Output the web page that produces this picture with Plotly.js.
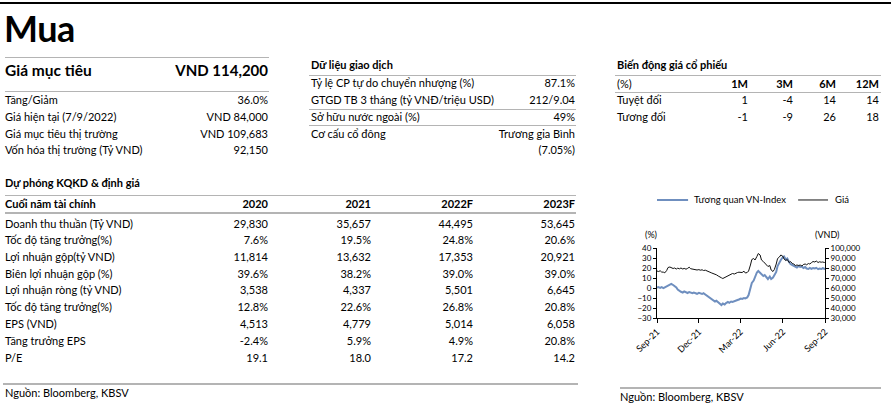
<!DOCTYPE html>
<html><head><meta charset="utf-8">
<script src="https://cdn.plot.ly/plotly-3.0.1.min.js"></script>
<style>
html,body{margin:0;padding:0;background:#fff}
body{width:891px;height:403px;overflow:hidden;position:relative;font-family:Lato,"Noto Sans",sans-serif;color:#000}
.t{position:absolute;white-space:nowrap}
.hl{position:absolute;height:0}
</style></head><body>
<div id="chart" style="position:absolute;left:615px;top:185px;width:276px;height:175px"></div>
<script>
// ---------- data ----------
const rating = "Mua";
const targetLabel = "Giá mục tiêu";
const targetValue = "VND 114,200";
const keyLabels = ["Tăng/Giảm","Giá hiện tại (7/9/2022)","Giá mục tiêu thị trường","Vốn hóa thị trường (Tỷ VND)"];
const keyValues = ["36.0%","VND 84,000","VND 109,683","92,150"];

const tradeTitle = "Dữ liệu giao dịch";
const tradeLabels = ["Tỷ lệ CP tự do chuyển nhượng (%)","GTGD TB 3 tháng (tỷ VNĐ/triệu USD)","Sở hữu nước ngoài (%)","Cơ cấu cổ đông",""];
const tradeValues = ["87.1%","212/9.04","49%","Trương gia Bình","(7.05%)"];

const perfTitle = "Biến động giá cổ phiếu";
const perfHeaders = ["(%)","1M","3M","6M","12M"];
const perfRowLabels = ["Tuyệt đối","Tương đối"];
const perfAbsolute = [1,-4,14,14];
const perfRelative = [-1,-9,26,18];

const fcTitle = "Dự phóng KQKD & định giá";
const fcHeader = "Cuối năm tài chính";
const fcYears = ["2020","2021","2022F","2023F"];
const fcLabels = ["Doanh thu thuần (Tỷ VND)","Tốc độ tăng trưởng(%)","Lợi nhuận gộp(tỷ VND)","Biên lợi nhuận gộp (%)","Lợi nhuận ròng (tỷ VND)","Tốc độ tăng trưởng(%)","EPS (VND)","Tăng trưởng EPS","P/E"];
const fc2020 = ["29,830","7.6%","11,814","39.6%","3,538","12.8%","4,513","-2.4%","19.1"];
const fc2021 = ["35,657","19.5%","13,632","38.2%","4,337","22.6%","4,779","5.9%","18.0"];
const fc2022F = ["44,495","24.8%","17,353","39.0%","5,501","26.8%","5,014","4.9%","17.2"];
const fc2023F = ["53,645","20.6%","20,921","39.0%","6,645","20.8%","6,058","20.8%","14.2"];

const sourceText = "Nguồn: Bloomberg, KBSV";

// chart series
const seriesNames = ["Tương quan VN-Index","Giá"];
const seriesColors = ["#6f8fbf","#111111"];
const dates = ["2021-09-07","2021-09-10","2021-09-14","2021-09-17","2021-09-21","2021-09-24","2021-09-28",
"2021-10-01","2021-10-05","2021-10-08","2021-10-12","2021-10-15","2021-10-19","2021-10-22","2021-10-26","2021-10-29",
"2021-11-02","2021-11-05","2021-11-09","2021-11-12","2021-11-16","2021-11-19","2021-11-23","2021-11-26","2021-11-30",
"2021-12-03","2021-12-07","2021-12-10","2021-12-14","2021-12-17","2021-12-21","2021-12-24","2021-12-28","2021-12-31",
"2022-01-04","2022-01-07","2022-01-11","2022-01-14","2022-01-18","2022-01-21","2022-01-25","2022-01-28",
"2022-02-01","2022-02-04","2022-02-08","2022-02-11","2022-02-15","2022-02-18","2022-02-22","2022-02-25",
"2022-03-01","2022-03-04","2022-03-08","2022-03-11","2022-03-15","2022-03-18","2022-03-22","2022-03-25","2022-03-29",
"2022-04-01","2022-04-05","2022-04-08","2022-04-12","2022-04-15","2022-04-19","2022-04-22","2022-04-26","2022-04-29",
"2022-05-03","2022-05-06","2022-05-10","2022-05-13","2022-05-17","2022-05-20","2022-05-24","2022-05-27","2022-05-31",
"2022-06-03","2022-06-07","2022-06-10","2022-06-14","2022-06-17","2022-06-21","2022-06-24","2022-06-28",
"2022-07-01","2022-07-05","2022-07-08","2022-07-12","2022-07-15","2022-07-19","2022-07-22","2022-07-26","2022-07-29",
"2022-08-02","2022-08-05","2022-08-09","2022-08-12","2022-08-16","2022-08-19","2022-08-23","2022-08-26","2022-08-30",
"2022-09-02","2022-09-06","2022-09-07"];
const relativeVNIndex = [0.5,1.0,0.2,0.8,-0.2,0.5,1.5,
2.5,3.8,4.2,3.0,2.0,0.5,-1.5,-3.0,-3.8,
-4.5,-3.5,-4.2,-5.0,-4.0,-4.8,-5.2,-4.5,-5.0,
-5.8,-4.8,-5.5,-6.0,-5.2,-6.5,-7.5,-8.5,-10.0,
-11.0,-12.5,-13.5,-12.8,-14.5,-15.0,-17.0,-15.5,
-16.5,-15.0,-14.0,-14.8,-13.5,-14.0,-13.0,-12.5,
-12.0,-11.5,-10.5,-11.0,-10.0,-10.5,-9.5,-7.0,-1.0,
5.0,7.5,12.0,15.5,17.0,15.0,13.5,12.0,13.0,
10.5,9.0,11.5,9.0,10.5,12.5,16.0,22.0,26.5,
28.0,30.5,31.5,28.5,29.5,26.0,24.0,23.0,
22.0,21.5,20.5,22.0,21.0,21.5,20.0,21.0,19.5,
19.0,20.0,19.2,20.0,19.5,20.2,18.8,19.5,19.0,
19.8,19.2,19.5];
const priceVND = [77000,76500,77200,76000,75800,75200,77500,
80500,81000,80200,79500,80000,79000,79800,79200,80000,
79000,79600,78800,79500,80800,79300,78800,79200,78500,
78000,78400,77800,78200,77500,77800,77000,76500,75800,
75000,74500,74000,73200,72000,71500,70200,69500,
70500,71200,72500,73000,73800,74500,74000,75000,
75500,75800,76000,75500,76800,75000,75500,77000,83000,
88500,89500,88000,91500,94500,93000,88000,86500,85000,
83000,81500,82500,78000,76500,78500,84000,89500,91000,
93000,92000,89000,87500,88500,85500,86500,84500,
84000,82500,83000,82500,83000,82000,83500,84000,83200,
84500,84000,85500,86500,86000,87000,85500,86200,85800,
86000,85500,85500];
const xTickVals = ["2021-09-07","2021-12-07","2022-03-07","2022-06-07","2022-09-07"];
const xTickText = ["Sep-21","Dec-21","Mar-22","Jun-22","Sep-22"];
const leftAxisTitle = "(%)";
const rightAxisTitle = "(VND)";

// ---------- page text ----------
function addText(txt, x, yc, o) {
  o = o || {};
  const d = document.createElement('div');
  d.className = 't';
  d.textContent = txt;
  const fs = o.size || 11;
  const h = Math.round(fs * 1.3);
  d.style.fontSize = fs + 'px';
  d.style.height = h + 'px';
  d.style.lineHeight = h + 'px';
  d.style.top = (yc - h / 2) + 'px';
  if (o.bold) d.style.fontWeight = o.bold;
  if (o.ls) d.style.letterSpacing = o.ls;
  if (o.right) { d.style.left = (x - 400) + 'px'; d.style.width = '400px'; d.style.textAlign = 'right'; }
  else d.style.left = x + 'px';
  document.body.appendChild(d);
}
function addLine(x1, x2, y, color, w) {
  const d = document.createElement('div');
  d.className = 'hl';
  d.style.left = x1 + 'px';
  d.style.width = (x2 - x1) + 'px';
  d.style.top = (y - w / 2) + 'px';
  d.style.borderTop = w + 'px solid ' + color;
  document.body.appendChild(d);
}
const GRAY = '#b4b4b4';
addLine(0, 891, 3, '#000', 2);
addText(rating, 4, 28, {size: 36, bold: 700, ls: '-0.5px'});

// key figures
addLine(5, 269, 58, GRAY, 1.5);
addText(targetLabel, 5, 70, {size: 15.5, bold: 700});
addText(targetValue, 268, 70, {size: 15, bold: 700, right: true});
addLine(5, 269, 92, GRAY, 1.5);
const keyY = [100, 117, 134, 150];
keyLabels.forEach((l, i) => { addText(l, 5, keyY[i]); addText(keyValues[i], 268, keyY[i], {right: true}); });

// trading data
addText(tradeTitle, 311, 65, {bold: 700});
addLine(309, 576, 75, GRAY, 1);
const tradeY = [83, 100, 117, 133.5, 150];
tradeLabels.forEach((l, i) => { if (l) addText(l, 311, tradeY[i]); addText(tradeValues[i], 575, tradeY[i], {right: true}); });
addLine(309, 576, 109, GRAY, 1);
addLine(309, 576, 125.5, GRAY, 1);

// price performance
addText(perfTitle, 617, 65, {bold: 700});
addLine(615, 881, 75, GRAY, 1);
const perfX = [748, 793, 836, 879];
addText(perfHeaders[0], 617, 83.5);
perfHeaders.slice(1).forEach((h, i) => addText(h, perfX[i], 83.5, {bold: 700, right: true}));
addLine(615, 881, 92.5, GRAY, 1);
addText(perfRowLabels[0], 617, 100);
perfAbsolute.forEach((v, i) => addText(String(v), perfX[i], 100, {right: true}));
addText(perfRowLabels[1], 617, 117);
perfRelative.forEach((v, i) => addText(String(v), perfX[i], 117, {right: true}));

// forecast table
addText(fcTitle, 5, 183, {bold: 700});
addLine(5, 576, 195, GRAY, 1);
const fcX = [268, 371, 473, 575];
addText(fcHeader, 5, 204, {bold: 700});
fcYears.forEach((y, i) => addText(y, fcX[i], 204, {bold: 700, right: true}));
addLine(5, 576, 213, GRAY, 2.5);
const fcCols = [fc2020, fc2021, fc2022F, fc2023F];
const fcY = [223.5, 240, 257, 273.5, 290, 307, 324, 341, 358];
fcLabels.forEach((l, r) => {
  addText(l, 5, fcY[r]);
  fcCols.forEach((col, c) => addText(col[r], fcX[c], fcY[r], {right: true}));
});

// sources
addLine(3, 578, 384, GRAY, 2);
addText(sourceText, 5, 393);
addLine(620, 881, 388, GRAY, 2);
addText(sourceText, 620, 397);

// ---------- chart ----------
const traces = [
  {x: dates, y: relativeVNIndex, name: seriesNames[0], type: 'scatter', mode: 'lines',
   line: {color: seriesColors[0], width: 2}, yaxis: 'y'},
  {x: dates, y: priceVND, name: seriesNames[1], type: 'scatter', mode: 'lines',
   line: {color: seriesColors[1], width: 1}, yaxis: 'y2'}
];
const axCommon = {showgrid: false, zeroline: false, fixedrange: true, tickcolor: '#000', tickwidth: 1};
const yFont = {size: 8, color: '#000'};
// legend built from shapes + annotations (paper coords, plot area = 168 x 70 px)
const legendY = 1.686;
const layout = {
  width: 276, height: 175,
  margin: {l: 42, r: 66, t: 63, b: 42, pad: 0},
  paper_bgcolor: '#fff', plot_bgcolor: '#fff',
  font: {family: 'Lato, sans-serif', size: 9, color: '#000'},
  showlegend: false,
  xaxis: Object.assign({}, axCommon, {type: 'date', range: ['2021-09-07', '2022-09-07'],
    tickmode: 'array', tickvals: xTickVals, ticktext: xTickText, tickangle: -45, tickfont: {size: 9},
    ticks: 'outside', ticklen: 4, showline: true, linecolor: '#000', linewidth: 1}),
  yaxis: Object.assign({}, axCommon, {range: [-30, 40], tick0: 0, dtick: 10, ticks: 'outside', ticklen: 3,
    tickfont: yFont, showline: true, linecolor: '#000', linewidth: 1}),
  yaxis2: Object.assign({}, axCommon, {overlaying: 'y', side: 'right', anchor: 'x', range: [30000, 100000],
    tick0: 0, dtick: 10000, tickformat: ',', ticks: 'outside', ticklen: 3, tickfont: yFont,
    showline: true, linecolor: '#000', linewidth: 1}),
  yaxis3: Object.assign({}, axCommon, {overlaying: 'y', side: 'left', anchor: 'x', range: [-30, 40], tick0: 0, dtick: 10,
    ticks: 'inside', ticklen: 3, showticklabels: false, showline: false}),
  yaxis4: Object.assign({}, axCommon, {overlaying: 'y', side: 'right', anchor: 'x', range: [30000, 100000], tick0: 0, dtick: 10000,
    ticks: 'inside', ticklen: 3, showticklabels: false, showline: false}),
  shapes: [
    {type: 'line', xref: 'paper', yref: 'paper', x0: 0.0, x1: 0.185, y0: legendY, y1: legendY, line: {color: seriesColors[0], width: 2}},
    {type: 'line', xref: 'paper', yref: 'paper', x0: 0.84, x1: 1.018, y0: legendY, y1: legendY, line: {color: seriesColors[1], width: 1}}
  ],
  annotations: [
    {text: seriesNames[0], xref: 'paper', yref: 'paper', x: 0.208, y: legendY, xanchor: 'left', yanchor: 'middle', showarrow: false, font: {size: 9.5}},
    {text: seriesNames[1], xref: 'paper', yref: 'paper', x: 1.045, y: legendY, xanchor: 'left', yanchor: 'middle', showarrow: false, font: {size: 9.5}},
    {text: leftAxisTitle, xref: 'paper', yref: 'paper', x: -0.083, y: 1.2, yanchor: 'middle', showarrow: false, font: {size: 9}},
    {text: rightAxisTitle, xref: 'paper', yref: 'paper', x: 1.10, y: 1.2, yanchor: 'middle', showarrow: false, font: {size: 9}}
  ]
};
Plotly.newPlot('chart', traces, layout, {staticPlot: true, displayModeBar: false});
</script>
</body></html>
